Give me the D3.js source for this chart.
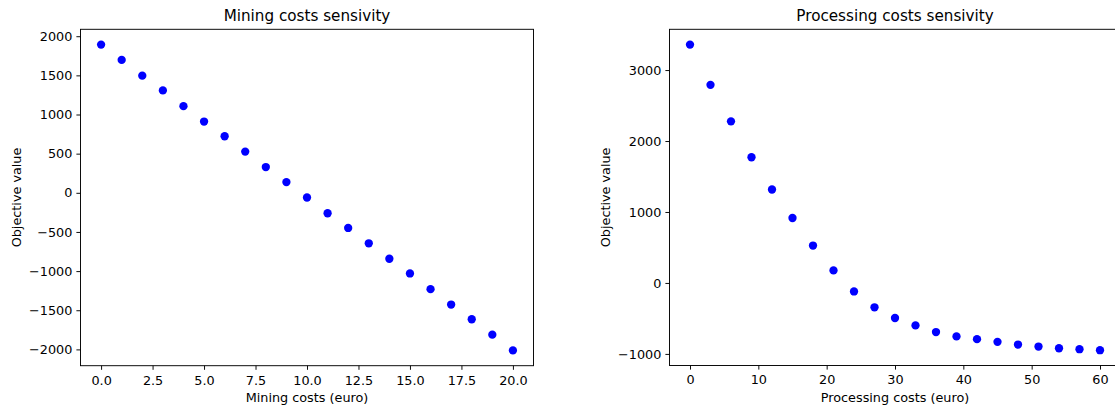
<!DOCTYPE html>
<html>
<head>
<meta charset="utf-8">
<script src="https://cdn.jsdelivr.net/npm/d3@7"></script>
<style>
  html, body { margin: 0; padding: 0; background: #fff; }
  svg { display: block; }
  text { font-family: "DejaVu Sans", sans-serif; fill: #000; }
</style>
</head>
<body>
<script>
// ---- Data ----
const miningCosts = [0,1,2,3,4,5,6,7,8,9,10,11,12,13,14,15,16,17,18,19,20];
const miningObjective = [1893,1697,1496,1308,1107,910,722,526,329,137,-60,-261,-449,-645,-842,-1030,-1231,-1427,-1615,-1812,-2013];
const processingCosts = [0,3,6,9,12,15,18,21,24,27,30,33,36,39,42,45,48,51,54,57,60];
const processingObjective = [3359,2792,2277,1771,1317,915,527,177,-120,-343,-494,-598,-692,-753,-792,-830,-868,-896,-920,-934,-948];
const miningXTicks = [0,2.5,5,7.5,10,12.5,15,17.5,20];
const miningYTicks = [-2000,-1500,-1000,-500,0,500,1000,1500,2000];
const processingXTicks = [0,10,20,30,40,50,60];
const processingYTicks = [-1000,0,1000,2000,3000];

const W = 1115, H = 405;
const svg = d3.select("body").append("svg").attr("width", W).attr("height", H);

function pad(ext) { const r = ext[1]-ext[0]; return [ext[0]-0.05*r, ext[1]+0.05*r]; }

function panel(opt) {
  const g = svg.append("g");
  const x = d3.scaleLinear().domain(pad(d3.extent(opt.xs))).range([opt.left, opt.right]);
  const y = d3.scaleLinear().domain(pad(d3.extent(opt.ys))).range([opt.bottom, opt.top]);
  const fs = "12.8px";

  // frame
  g.append("rect").attr("x", opt.left).attr("y", opt.top)
    .attr("width", opt.right-opt.left).attr("height", opt.bottom-opt.top)
    .attr("fill", "none").attr("stroke", "#000").attr("stroke-width", 0.95);

  const xa = g.append("g").attr("transform", `translate(0,${opt.bottom})`)
    .call(d3.axisBottom(x).tickValues(opt.xticks).tickFormat(d3.format(opt.xfmt)).tickSizeOuter(0).tickSize(4.1).tickPadding(5.8));
  const ya = g.append("g").attr("transform", `translate(${opt.left},0)`)
    .call(d3.axisLeft(y).tickValues(opt.yticks).tickFormat(d3.format("d")).tickSizeOuter(0).tickSize(4.1).tickPadding(4.1));
  [xa, ya].forEach(a => {
    a.select(".domain").remove();
    a.selectAll("line").attr("stroke", "#000").attr("stroke-width", 0.95);
    a.selectAll("text").attr("font-family", "DejaVu Sans").attr("font-size", fs).attr("fill", "#000");
  });

  g.selectAll("circle.pt").data(opt.xs.map((v,i)=>[v,opt.ys[i]])).enter()
    .append("circle").attr("class","pt")
    .attr("cx", d => x(d[0])).attr("cy", d => y(d[1])).attr("r", 4.15)
    .attr("fill", "#0000ff");

  const cx = (opt.left + opt.right)/2;
  g.append("text").attr("x", cx).attr("y", 20.5).attr("text-anchor","middle")
    .attr("font-size","15.2px").text(opt.title);
  g.append("text").attr("x", cx).attr("y", 401.5).attr("text-anchor","middle")
    .attr("font-size", fs).text(opt.xlabel);
  const ly = (opt.top + opt.bottom)/2;
  g.append("text").attr("transform", `translate(${opt.ylabelX},${ly}) rotate(-90)`)
    .attr("text-anchor","middle").attr("font-size", fs).text("Objective value");
}

panel({
  xs: miningCosts, ys: miningObjective, left: 80.5, right: 533.5, top: 29.3, bottom: 365.7,
  xticks: miningXTicks, yticks: miningYTicks, xfmt: ".1f",
  title: "Mining costs sensivity", xlabel: "Mining costs (euro)", ylabelX: 21
});
panel({
  xs: processingCosts, ys: processingObjective, left: 669.5, right: 1120.5, top: 29.3, bottom: 365.5,
  xticks: processingXTicks, yticks: processingYTicks, xfmt: "d",
  title: "Processing costs sensivity", xlabel: "Processing costs (euro)", ylabelX: 610
});
</script>
</body>
</html>
